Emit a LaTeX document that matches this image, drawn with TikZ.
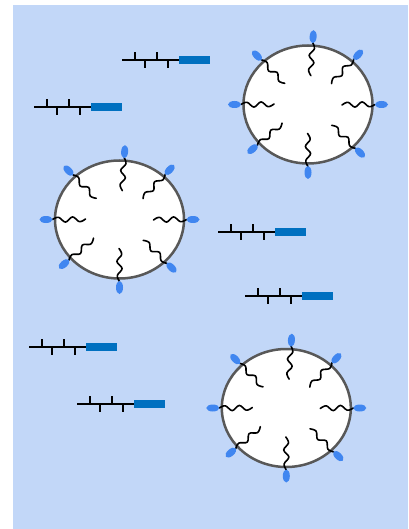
\documentclass[tikz,border=0pt]{standalone}

\definecolor{bg}{RGB}{194,215,248}
\definecolor{headblue}{RGB}{64,134,240}
\definecolor{chainblue}{RGB}{0,112,192}
\definecolor{membrane}{RGB}{88,88,88}

% one vesicle: membrane shell, eight inward tails, eight polar heads
\newcommand\drawvesicle[2]{%
  \begin{scope}[shift={(#1,#2)}]
    \draw[shell] (0,0) ellipse [x radius=64.5, y radius=59];
    \foreach \a in {86,47,0,-45,-90,-139,180,134} {
      \begin{scope}[shift={({67*cos(\a)},{-62*sin(\a)})}, rotate=\a+180]
        \draw[tailline] plot[smooth, tension=0.6] coordinates
          {(0,0) (6,-2.2) (13,2.6) (20,-2.6) (27,2.2) (33,-0.5)};
      \end{scope}
      \begin{scope}[shift={({73.5*cos(\a)},{-68*sin(\a)})}, rotate=\a]
        \fill[headgroup] (0,0) ellipse [x radius=6.5, y radius=3.5];
      \end{scope}
    }
  \end{scope}}

\begin{document}
\begin{tikzpicture}[x=1pt, y=-1pt,
  tailline/.style={black, line width=1.6pt, line join=round, line cap=round},
  headgroup/.style={fill=headblue, draw=none},
  shell/.style={draw=membrane, line width=2.5pt, fill=white},
  freechain/.style={black, line width=1.5pt},
  freehead/.style={fill=chainblue, draw=none},
  freelipid/.pic={
    \draw[freechain] (0,0) -- (57,0);
    \foreach \t in {13,35} \draw[freechain] (\t,0) -- (\t,-8);
    \foreach \t in {23,46} \draw[freechain] (\t,0) -- (\t,8);
    \fill[freehead] (57,-3.7) rectangle (88,3.7);
  }]

  \useasboundingbox (0,0) rectangle (408,529);
  \fill[bg] (13,5) rectangle (408,529);

  % vesicles
  \drawvesicle{308}{104.5}
  \drawvesicle{119.5}{219.5}
  \drawvesicle{286.3}{408}

  % free molecules in solution
  \pic at (122,60) {freelipid};
  \pic at (34,107) {freelipid};
  \pic at (218,232) {freelipid};
  \pic at (245,296) {freelipid};
  \pic at (29,347) {freelipid};
  \pic at (77,404) {freelipid};
\end{tikzpicture}
\end{document}
